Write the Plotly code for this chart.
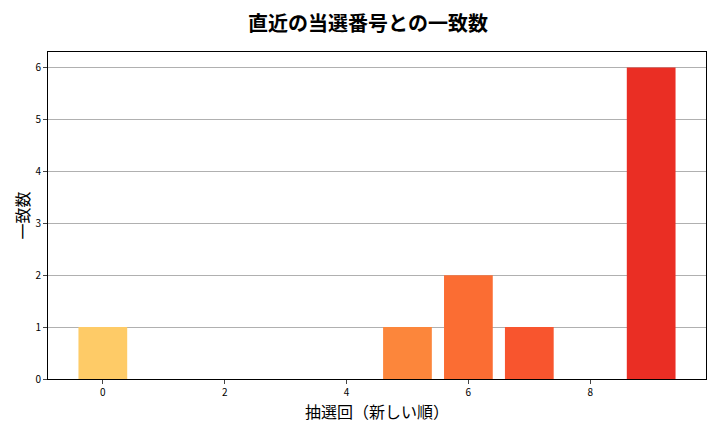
import plotly.graph_objects as go

# 抽選回（新しい順）ごとの一致数
draw_index = [0, 1, 2, 3, 4, 5, 6, 7, 8, 9]
match_count = [1, 0, 0, 0, 0, 1, 2, 1, 0, 6]
bar_colors = ["#fecb67", "#feba5a", "#fea94f", "#fd9a45", "#fd9040",
              "#fc863b", "#fb6d33", "#f8552e", "#f03f2a", "#ea2e24"]

FONT = "Noto Sans CJK JP"

fig = go.Figure(go.Bar(x=draw_index, y=match_count, width=0.8,
                       marker=dict(color=bar_colors, line=dict(width=0))))

fig.update_layout(
    width=720, height=432,
    margin=dict(l=40, r=22, t=44, b=61, autoexpand=False),
    paper_bgcolor="white", plot_bgcolor="white",
    font=dict(family=FONT, color="black"),
    title=dict(text="<b>直近の当選番号との一致数</b>", x=0.5, xanchor="center",
               y=0.963, yanchor="middle", font=dict(size=20, family=FONT)),
    showlegend=False,
)
fig.update_xaxes(range=[-0.9, 9.9], tickvals=[0, 2, 4, 6, 8], automargin=False,
                 ticks="outside", ticklen=4, tickfont=dict(size=10),
                 showgrid=False, zeroline=False,
                 showline=True, linecolor="black", linewidth=1, mirror=True,
                 title=dict(text="抽選回（新しい順）", font=dict(size=16), standoff=3))
fig.update_yaxes(range=[0, 6.3], tickvals=[0, 1, 2, 3, 4, 5, 6], automargin=False,
                 ticks="outside", ticklen=4, tickfont=dict(size=10),
                 showgrid=True, gridcolor="#b0b0b0", gridwidth=1, zeroline=False,
                 showline=True, linecolor="black", linewidth=1, mirror=True,
                 title=dict(text="一致数", font=dict(size=16), standoff=1))

fig.write_html("out.html")
